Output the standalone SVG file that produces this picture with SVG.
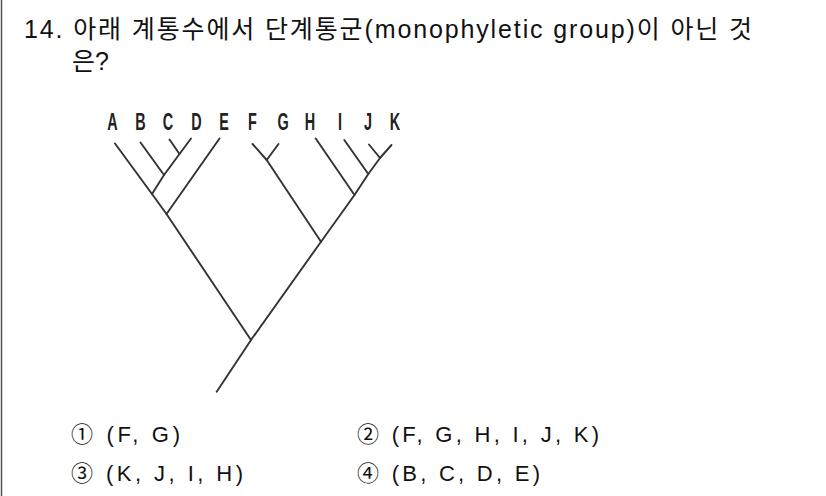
<svg xmlns="http://www.w3.org/2000/svg" width="826" height="496" viewBox="0 0 826 496">
<style>
.q{font-family:"Liberation Sans","Noto Sans CJK KR",sans-serif;font-size:25px;fill:#111}
.o{font-family:"Liberation Sans","Noto Sans CJK KR",sans-serif;font-size:22px;fill:#111}
.lb{font-family:"Liberation Sans",sans-serif;font-weight:bold;font-size:24px;fill:#222;text-anchor:middle}
.br{fill:none;stroke:#333;stroke-width:1.9;stroke-linecap:round;stroke-linejoin:round}
</style>
<rect x="0" y="0" width="826" height="496" fill="#fff"/>
<line x1="1.5" y1="0" x2="1.5" y2="496" stroke="#555" stroke-width="1.5"/>
<g id="question">
<text class="q" x="24" y="38" textLength="728" lengthAdjust="spacing">14. 아래 계통수에서 단계통군(monophyletic group)이 아닌 것</text>
<text class="q" x="72" y="70">은?</text>
</g>
<g id="labels" transform="scale(0.6,1)">
<text class="lb" x="187.5" y="130">A</text>
<text class="lb" x="234.2" y="130">B</text>
<text class="lb" x="280" y="130">C</text>
<text class="lb" x="327.5" y="130">D</text>
<text class="lb" x="373.3" y="130">E</text>
<text class="lb" x="420.8" y="130">F</text>
<text class="lb" x="471.7" y="130">G</text>
<text class="lb" x="516.7" y="130">H</text>
<text class="lb" x="566.7" y="130">I</text>
<text class="lb" x="613.3" y="130">J</text>
<text class="lb" x="658.3" y="130">K</text>
</g>
<g id="connectors">
<polyline class="br" points="115,143.5 152,194 166.5,214 251,340"/>
<polyline class="br" points="140.5,142.5 164,175 152,194"/>
<polyline class="br" points="169.5,139.5 179.5,154 164,175"/>
<line class="br" x1="191" y1="138.5" x2="179.5" y2="154"/>
<line class="br" x1="219.5" y1="138.5" x2="166.5" y2="214"/>
<polyline class="br" points="252.5,144 266.7,160 321,241.7"/>
<line class="br" x1="278.5" y1="144" x2="266.7" y2="160"/>
<polyline class="br" points="315.7,138.5 354.5,195 321,241.7 251,340 216.7,391.7"/>
<polyline class="br" points="344.3,140 368.3,174 354.5,195"/>
<polyline class="br" points="369,144.5 380,158 368.3,174"/>
<line class="br" x1="391.5" y1="145" x2="380" y2="158"/>
</g>
<g id="options">
<text class="o" x="71" y="442" textLength="109" lengthAdjust="spacing">① (F, G)</text>
<text class="o" x="357" y="442" textLength="242" lengthAdjust="spacing">② (F, G, H, I, J, K)</text>
<text class="o" x="71" y="481" textLength="172" lengthAdjust="spacing">③ (K, J, I, H)</text>
<text class="o" x="357" y="481" textLength="183" lengthAdjust="spacing">④ (B, C, D, E)</text>
</g>
</svg>
